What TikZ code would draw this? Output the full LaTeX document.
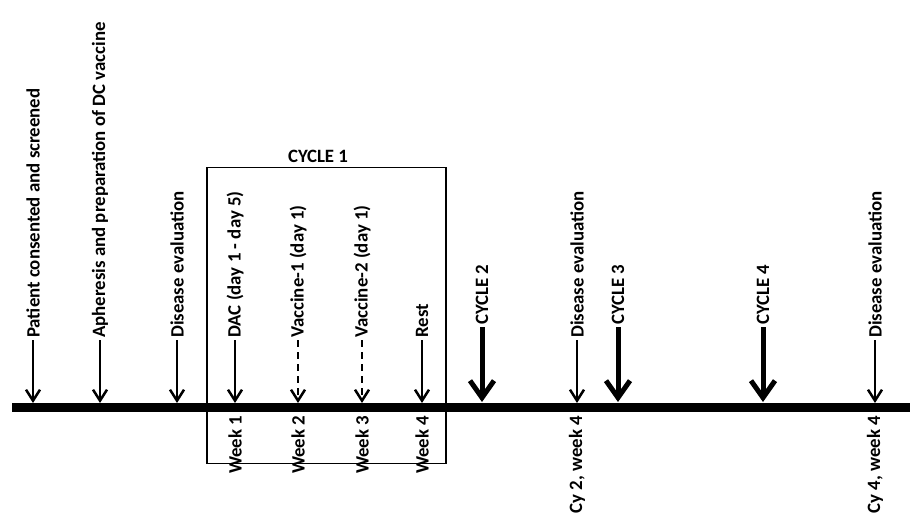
\documentclass[tikz,border=0pt]{standalone}
\usepackage{fontspec}
\setmainfont{Carlito}
\usetikzlibrary{arrows.meta,positioning}

\tikzset{
  txt/.style={font=\fontsize{18.9}{22}\selectfont\bfseries},
  evlabel/.style={txt, rotate=90, anchor=west, inner sep=2bp},
  wklabel/.style={txt, rotate=90, anchor=east, inner sep=1.5bp},
  thinarrow/.style={line width=2.5bp, -{Straight Barb[length=11bp,width=14bp]}},
  dasharrow/.style={thinarrow, dash pattern=on 7bp off 5bp},
  cyclearrow/.style={line width=5bp, -{Straight Barb[length=17bp,width=24bp]}},
}

\begin{document}
\begin{tikzpicture}[x=1bp,y=-1bp]
\useasboundingbox (0,0) rectangle (910,515);
% time line
\coordinate (tlL) at (12,407.5);
\coordinate (tlR) at (910,407.5);
\draw[line width=9.5bp] (tlL) -- (tlR);
% cycle 1 box
\node[draw, line width=1.3bp, minimum width=239bp, minimum height=296bp, inner sep=0] (cyc1box) at (326.5,315.5) {};
\node[txt, anchor=base, inner sep=0] (cyc1lab) at (318,163) {CYCLE 1};
% events with thin arrows
\foreach \x/\n/\t in {33/pat/Patient consented and screened,
    100/aph/Apheresis and preparation of DC vaccine,
    177/eval0/Disease evaluation,
    235/dac/DAC (day 1 - day 5),
    422/rest/Rest,
    577/eval2/Disease evaluation,
    875/eval4/Disease evaluation} {
  \node[evlabel] (\n) at (\x,340) {\t};
  \coordinate (\n-tip) at (\x,403);
  \draw[thinarrow] (\n.west) -- (\n-tip);
}
% vaccines
\foreach \x/\n/\t in {298/vac1/Vaccine-1 (day 1), 362/vac2/Vaccine-2 (day 1)} {
  \node[evlabel] (\n) at (\x,340) {\t};
  \coordinate (\n-tip) at (\x,403);
  \draw[dasharrow] (\n.west) -- (\n-tip);
}
% later cycles
\foreach \x/\n/\t in {482/cyc2/CYCLE 2, 618/cyc3/CYCLE 3, 763/cyc4/CYCLE 4} {
  \node[evlabel] (\n) at (\x,327) {\t};
  \coordinate (\n-tip) at (\x,402);
  \draw[cyclearrow] (\n.west) -- (\n-tip);
}
% labels below the line
\foreach \x/\n/\t in {235/wk1/Week 1, 298/wk2/Week 2, 362/wk3/Week 3, 422/wk4/Week 4,
    577/cy2wk/{Cy 2, week 4}, 875/cy4wk/{Cy 4, week 4}} {
  \node[wklabel] (\n) at (\x,414) {\t};
}
\end{tikzpicture}
\end{document}
